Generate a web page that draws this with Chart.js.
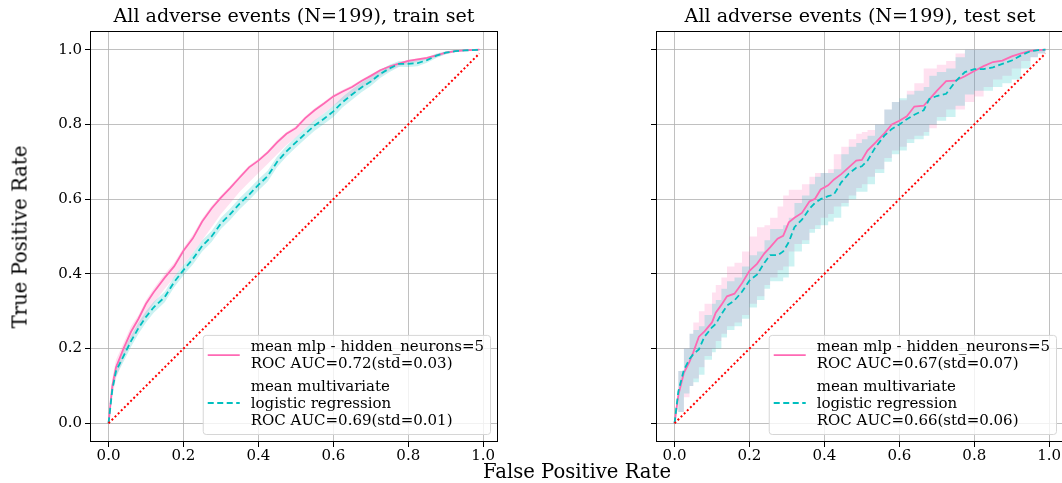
<!DOCTYPE html>
<html>
<head>
<meta charset="utf-8">
<script src="https://cdn.jsdelivr.net/npm/chart.js@4.4.0/dist/chart.umd.min.js"></script>
<style>
    html, body { margin: 0; padding: 0; background: #fff; overflow: hidden; width: 1062px; height: 483px; position: relative; }
    canvas { position: absolute; top: 0; }
    #train { left: 0; }
    #test { left: 560px; }
    .sup { position: absolute; font-family: 'DejaVu Serif', serif; font-size: 19.6px; color: #000; white-space: nowrap; }
    #ylab { left: 20px; top: 237px; transform: translate(-50%, -50%) rotate(-90deg); }
    #xlab { left: 577px; top: 471px; transform: translate(-50%, -50%); }
</style>
</head>
<body>
<canvas id="train" width="530" height="483"></canvas>
<canvas id="test" width="510" height="483"></canvas>
<div class="sup" id="ylab">True Positive Rate</div>
<div class="sup" id="xlab">False Positive Rate</div>
<script>
const tickValues = [0, 0.2, 0.4, 0.6, 0.8, 1.0];

const trainTitle = 'All adverse events (N=199), train set';
const testTitle = 'All adverse events (N=199), test set';

const trainMlpLabel = ['mean mlp - hidden_neurons=5', 'ROC AUC=0.72(std=0.03)'];
const trainLrLabel = ['mean multivariate', 'logistic regression', 'ROC AUC=0.69(std=0.01)'];
const testMlpLabel = ['mean mlp - hidden_neurons=5', 'ROC AUC=0.67(std=0.07)'];
const testLrLabel = ['mean multivariate', 'logistic regression', 'ROC AUC=0.66(std=0.06)'];

const diagFpr = [0, 0.99];
const diagTpr = [0, 0.99];

// train set
const trainFpr = [0, 0.01, 0.02, 0.04, 0.06, 0.08, 0.1, 0.12,
    0.15, 0.175, 0.2, 0.225, 0.25, 0.275, 0.3, 0.325, 0.35, 0.375,
    0.4, 0.425, 0.45, 0.475, 0.5, 0.525, 0.55, 0.575, 0.6, 0.625,
    0.65, 0.675, 0.7, 0.725, 0.75, 0.775, 0.8, 0.825, 0.85, 0.875,
    0.9, 0.925, 0.95, 0.99];
const trainMlpTpr = [0, 0.10, 0.15, 0.20, 0.245, 0.28, 0.32, 0.35,
    0.39, 0.42, 0.462, 0.495, 0.54, 0.575, 0.604, 0.63, 0.658, 0.685,
    0.703, 0.725, 0.752, 0.775, 0.79, 0.817, 0.838, 0.856, 0.875, 0.888,
    0.9, 0.916, 0.93, 0.945, 0.955, 0.963, 0.97, 0.974, 0.978, 0.985,
    0.992, 0.996, 0.998, 1.0];
const trainMlpHi = [0, 0.12, 0.17, 0.215, 0.26, 0.29, 0.33, 0.36,
    0.40, 0.43, 0.47, 0.505, 0.548, 0.582, 0.61, 0.636, 0.664, 0.69,
    0.708, 0.73, 0.758, 0.78, 0.796, 0.822, 0.843, 0.861, 0.88, 0.893,
    0.905, 0.92, 0.934, 0.948, 0.958, 0.966, 0.973, 0.977, 0.981, 0.988,
    0.994, 0.998, 1.0, 1.0];
const trainMlpLo = [0, 0.07, 0.12, 0.175, 0.22, 0.255, 0.29, 0.32,
    0.36, 0.39, 0.425, 0.455, 0.49, 0.525, 0.56, 0.59, 0.62, 0.645,
    0.67, 0.695, 0.72, 0.745, 0.765, 0.79, 0.81, 0.83, 0.85, 0.865,
    0.88, 0.898, 0.912, 0.93, 0.945, 0.955, 0.962, 0.968, 0.973, 0.98,
    0.988, 0.993, 0.996, 1.0];
const trainLrTpr = [0, 0.09, 0.14, 0.18, 0.22, 0.255, 0.285, 0.31,
    0.338, 0.378, 0.41, 0.44, 0.475, 0.50, 0.535, 0.56, 0.588, 0.612,
    0.638, 0.662, 0.70, 0.728, 0.752, 0.775, 0.797, 0.815, 0.835, 0.86,
    0.88, 0.899, 0.915, 0.935, 0.95, 0.962, 0.962, 0.964, 0.972, 0.984,
    0.992, 0.996, 0.998, 1.0];
const trainLrHi = [0, 0.10, 0.155, 0.195, 0.235, 0.27, 0.30, 0.325,
    0.352, 0.392, 0.424, 0.455, 0.49, 0.515, 0.55, 0.575, 0.603, 0.627,
    0.653, 0.677, 0.714, 0.742, 0.766, 0.789, 0.811, 0.829, 0.85, 0.874,
    0.894, 0.912, 0.927, 0.946, 0.96, 0.97, 0.97, 0.972, 0.979, 0.99,
    0.996, 0.999, 1.0, 1.0];
const trainLrLo = [0, 0.08, 0.125, 0.165, 0.205, 0.24, 0.27, 0.295,
    0.324, 0.364, 0.396, 0.425, 0.46, 0.485, 0.52, 0.545, 0.573, 0.597,
    0.623, 0.647, 0.686, 0.714, 0.738, 0.761, 0.783, 0.801, 0.82, 0.846,
    0.866, 0.886, 0.903, 0.924, 0.94, 0.954, 0.954, 0.956, 0.965, 0.978,
    0.988, 0.993, 0.996, 1.0];

// test set
const testFpr = [0, 0.01, 0.025, 0.04, 0.05, 0.065, 0.08, 0.1, 0.11, 0.125,
    0.14, 0.16, 0.18, 0.2, 0.22, 0.24, 0.255, 0.275, 0.29, 0.305,
    0.32, 0.34, 0.36, 0.375, 0.39, 0.41, 0.425, 0.445, 0.465, 0.485,
    0.5, 0.515, 0.535, 0.56, 0.58, 0.6, 0.62, 0.64, 0.665, 0.68,
    0.7, 0.725, 0.75, 0.775, 0.8, 0.825, 0.85, 0.875, 0.9, 0.925,
    0.95, 0.97, 0.99];
const testMlpTpr = [0, 0.075, 0.135, 0.165, 0.19, 0.232, 0.246, 0.27, 0.296, 0.317,
    0.34, 0.347, 0.375, 0.408, 0.427, 0.455, 0.471, 0.494, 0.502, 0.538,
    0.55, 0.563, 0.594, 0.601, 0.626, 0.637, 0.652, 0.667, 0.685, 0.703,
    0.705, 0.73, 0.75, 0.776, 0.80, 0.81, 0.822, 0.848, 0.85, 0.867,
    0.89, 0.916, 0.917, 0.929, 0.943, 0.956, 0.967, 0.971, 0.982, 0.99,
    0.997, 0.999, 1.0];
const testMlpHi = [0, 0.14, 0.2, 0.24, 0.27, 0.30, 0.32, 0.35, 0.37, 0.39,
    0.42, 0.43, 0.46, 0.5, 0.525, 0.53, 0.55, 0.58, 0.61, 0.625,
    0.625, 0.64, 0.66, 0.67, 0.67, 0.68, 0.72, 0.74, 0.76, 0.775,
    0.78, 0.785, 0.80, 0.84, 0.86, 0.865, 0.89, 0.91, 0.95, 0.95,
    0.96, 0.97, 0.99, 1, 1, 1, 1, 1, 1, 1,
    1, 1, 1];
const testMlpLo = [0, 0.03, 0.07, 0.10, 0.12, 0.15, 0.18, 0.2, 0.22, 0.24,
    0.26, 0.27, 0.29, 0.32, 0.34, 0.37, 0.39, 0.41, 0.42, 0.46,
    0.48, 0.49, 0.52, 0.53, 0.55, 0.56, 0.58, 0.59, 0.61, 0.63,
    0.64, 0.66, 0.68, 0.71, 0.73, 0.74, 0.76, 0.77, 0.78, 0.79,
    0.82, 0.84, 0.84, 0.86, 0.875, 0.90, 0.92, 0.93, 0.95, 0.97,
    0.98, 0.99, 1.0];
const testLrTpr = [0, 0.085, 0.143, 0.172, 0.185, 0.198, 0.232, 0.257, 0.266, 0.292,
    0.315, 0.329, 0.352, 0.382, 0.398, 0.43, 0.45, 0.45, 0.46, 0.485,
    0.525, 0.545, 0.574, 0.59, 0.60, 0.608, 0.612, 0.645, 0.668, 0.684,
    0.688, 0.703, 0.737, 0.77, 0.788, 0.80, 0.814, 0.826, 0.838, 0.868,
    0.876, 0.882, 0.915, 0.94, 0.948, 0.948, 0.953, 0.962, 0.971, 0.985,
    0.996, 0.999, 1.0];
const testLrHi = [0, 0.14, 0.2, 0.24, 0.25, 0.26, 0.29, 0.32, 0.33, 0.36,
    0.38, 0.39, 0.42, 0.45, 0.46, 0.49, 0.52, 0.52, 0.53, 0.55,
    0.59, 0.61, 0.64, 0.66, 0.67, 0.67, 0.68, 0.72, 0.74, 0.75,
    0.76, 0.77, 0.80, 0.84, 0.86, 0.87, 0.88, 0.89, 0.90, 0.93,
    0.94, 0.95, 0.98, 1, 1, 1, 1, 1, 1, 1,
    1, 1, 1];
const testLrLo = [0, 0.03, 0.08, 0.10, 0.11, 0.13, 0.17, 0.19, 0.20, 0.23,
    0.25, 0.26, 0.28, 0.31, 0.33, 0.36, 0.38, 0.38, 0.39, 0.42,
    0.46, 0.48, 0.51, 0.52, 0.53, 0.54, 0.55, 0.58, 0.60, 0.62,
    0.62, 0.64, 0.67, 0.70, 0.72, 0.73, 0.75, 0.76, 0.77, 0.80,
    0.81, 0.82, 0.85, 0.88, 0.89, 0.89, 0.90, 0.91, 0.92, 0.95,
    0.98, 0.99, 1.0];

const serif = "'DejaVu Serif', 'Liberation Serif', serif";
const pink = '#ff69b4';
const cyan = '#00bfbf';
const gridColor = 'rgba(176,176,176,0.8)';

const pts = (xs, ys) => xs.map((x, i) => ({x: x, y: ys[i]}));

// black frame round the plot area (all four spines)
const framePlugin = {
    id: 'frame',
    afterDatasetsDraw(chart) {
        const a = chart.chartArea;
        const ctx = chart.ctx;
        ctx.save();
        ctx.strokeStyle = '#000';
        ctx.lineWidth = 1;
        ctx.strokeRect(Math.round(a.left) + 0.5, Math.round(a.top) + 0.5,
            Math.round(a.right - a.left) - 1, Math.round(a.bottom - a.top) - 1);
        ctx.restore();
    }
};

// matplotlib-like legend, lower right, multi-line labels
const rocLegend = {
    id: 'rocLegend',
    afterDraw(chart) {
        const items = chart.data.datasets.filter(d => d.legendOrder !== undefined)
            .sort((a, b) => a.legendOrder - b.legendOrder);
        const ctx = chart.ctx;
        const a = chart.chartArea;
        const lineH = 17;
        ctx.save();
        ctx.font = '15px ' + serif;
        let textW = 0;
        items.forEach(d => d.label.forEach(t => { textW = Math.max(textW, ctx.measureText(t).width); }));
        const nLines = items.reduce((s, d) => s + d.label.length, 0);
        const h = 3.2 + nLines * lineH + (items.length - 1) * 5.4 + 5.5;
        const w = 48 + textW + 6;
        const right = a.right - 8;
        const bottom = a.bottom - 8;
        const left = right - w;
        const top = bottom - h;

        ctx.beginPath();
        ctx.roundRect(left + 0.5, top + 0.5, w, h, 3);
        ctx.fillStyle = 'rgba(255,255,255,0.8)';
        ctx.fill();
        ctx.strokeStyle = '#d6d6d6';
        ctx.lineWidth = 1;
        ctx.stroke();

        let y = top + 3.2;
        items.forEach((d) => {
            const blockH = d.label.length * lineH;
            const mid = y + blockH / 2;
            ctx.beginPath();
            ctx.setLineDash(d.borderDash || []);
            ctx.strokeStyle = d.borderColor;
            ctx.lineWidth = d.borderWidth;
            ctx.moveTo(left + 5, mid);
            ctx.lineTo(left + 37, mid);
            ctx.stroke();
            ctx.setLineDash([]);
            ctx.fillStyle = '#000';
            ctx.textBaseline = 'middle';
            ctx.textAlign = 'left';
            d.label.forEach((t, j) => {
                ctx.fillText(t, left + 48, y + j * lineH + lineH / 2 + 1);
            });
            y += blockH + 5.4;
        });
        ctx.restore();
    }
};

function makeRoc(canvasId, opts) {
    const band = (xs, ys, color, fillTarget) => ({
        data: pts(xs, ys),
        borderWidth: 0,
        borderColor: 'rgba(0,0,0,0)',
        backgroundColor: color,
        pointRadius: 0,
        stepped: opts.steppedBands,
        fill: fillTarget
    });
    return new Chart(document.getElementById(canvasId), {
        type: 'line',
        data: {
            // drawn from last to first: mlp band, lr band, mlp line, lr line, diagonal
            datasets: [
                {
                    data: pts(diagFpr, diagTpr),
                    borderColor: '#ff0000',
                    borderWidth: 2,
                    borderDash: [2, 2.4],
                    pointRadius: 0,
                    fill: false
                },
                {
                    label: opts.lrLabel,
                    legendOrder: 1,
                    data: pts(opts.fpr, opts.lrTpr),
                    borderColor: cyan,
                    borderWidth: 1.8,
                    borderDash: [6, 3.5],
                    pointRadius: 0,
                    fill: false
                },
                {
                    label: opts.mlpLabel,
                    legendOrder: 0,
                    data: pts(opts.fpr, opts.mlpTpr),
                    borderColor: pink,
                    borderWidth: 1.8,
                    pointRadius: 0,
                    fill: false
                },
                band(opts.fpr, opts.lrHi, 'rgba(0,191,191,0.2)', '+1'),
                band(opts.fpr, opts.lrLo, 'rgba(0,0,0,0)', false),
                band(opts.fpr, opts.mlpHi, 'rgba(255,105,180,0.2)', '+1'),
                band(opts.fpr, opts.mlpLo, 'rgba(0,0,0,0)', false)
            ]
        },
        options: {
            responsive: false,
            animation: false,
            events: [],
            layout: {padding: {left: 0, top: 0, right: opts.padRight, bottom: 0}},
            scales: {
                x: {
                    type: 'linear',
                    min: -0.0495,
                    max: 1.0395,
                    afterBuildTicks: (s) => { s.ticks = tickValues.map(v => ({value: v})); },
                    afterFit: (s) => { s.height = 41; },
                    grid: {color: gridColor, lineWidth: 1, tickColor: '#000', tickLength: 5},
                    border: {display: false},
                    ticks: {
                        autoSkip: false,
                        maxRotation: 0,
                        padding: 0,
                        color: '#000',
                        font: {family: serif, size: 15},
                        callback: (v) => v.toFixed(1)
                    }
                },
                y: {
                    type: 'linear',
                    min: -0.05,
                    max: 1.05,
                    afterBuildTicks: (s) => { s.ticks = tickValues.map(v => ({value: v})); },
                    afterFit: (s) => { s.width = opts.yWidth; },
                    grid: {color: gridColor, lineWidth: 1, tickColor: '#000', tickLength: 5},
                    border: {display: false},
                    ticks: {
                        display: opts.yLabels,
                        autoSkip: false,
                        padding: 3,
                        color: '#000',
                        font: {family: serif, size: 15},
                        callback: (v) => v.toFixed(1)
                    }
                }
            },
            plugins: {
                legend: {display: false},
                tooltip: {enabled: false},
                title: {
                    display: true,
                    text: opts.title,
                    fullSize: false,
                    color: '#000',
                    font: {family: serif, size: 19.1, weight: 'normal', lineHeight: 1.2},
                    padding: {top: 5.5, bottom: 2.6}
                }
            }
        },
        plugins: [framePlugin, rocLegend]
    });
}

makeRoc('train', {
    title: trainTitle,
    fpr: trainFpr,
    mlpTpr: trainMlpTpr, mlpHi: trainMlpHi, mlpLo: trainMlpLo,
    lrTpr: trainLrTpr, lrHi: trainLrHi, lrLo: trainLrLo,
    mlpLabel: trainMlpLabel, lrLabel: trainLrLabel,
    steppedBands: false,
    yWidth: 90, yLabels: true, padRight: 32
});

makeRoc('test', {
    title: testTitle,
    fpr: testFpr,
    mlpTpr: testMlpTpr, mlpHi: testMlpHi, mlpLo: testMlpLo,
    lrTpr: testLrTpr, lrHi: testLrHi, lrLo: testLrLo,
    mlpLabel: testMlpLabel, lrLabel: testLrLabel,
    steppedBands: true,
    yWidth: 96, yLabels: false, padRight: 6
});
</script>
</body>
</html>
